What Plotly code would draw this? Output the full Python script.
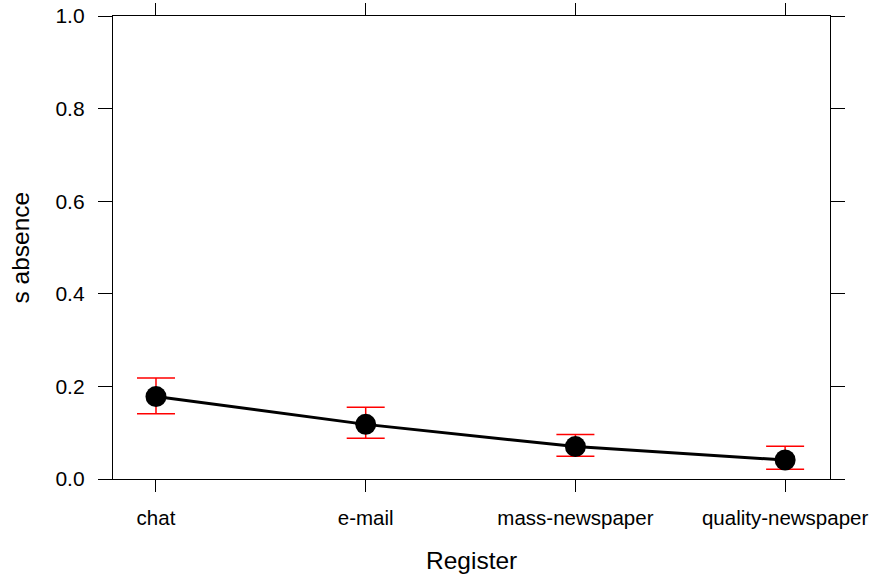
import plotly.graph_objects as go

categories = ["chat", "e-mail", "mass-newspaper", "quality-newspaper"]
fit = [0.178, 0.118, 0.070, 0.041]
upper = [0.218, 0.155, 0.096, 0.071]
lower = [0.141, 0.088, 0.049, 0.021]
y_ticks = [0.0, 0.2, 0.4, 0.6, 0.8, 1.0]
y_ticklabels = ["0.0", "0.2", "0.4", "0.6", "0.8", "1.0"]

err_plus = [u - f for u, f in zip(upper, fit)]
err_minus = [f - l for f, l in zip(fit, lower)]

fig = go.Figure()
fig.add_trace(go.Scatter(
    x=categories, y=fit, mode="lines+markers",
    line=dict(color="black", width=3),
    marker=dict(color="black", size=21),
    error_y=dict(type="data", symmetric=False, array=err_plus, arrayminus=err_minus,
                 color="red", thickness=1.5, width=19),
    showlegend=False,
))

font = "Liberation Sans, Arial, sans-serif"
fig.update_layout(
    width=895, height=579,
    margin=dict(l=113, r=65, t=16, b=100),
    plot_bgcolor="white", paper_bgcolor="white",
    font=dict(family=font, color="black"),
    xaxis=dict(
        type="category", range=[-0.205, 3.214], automargin=False,
        showline=True, linecolor="black", linewidth=1.3, mirror="ticks",
        ticks="outside", ticklen=12, tickwidth=1.3, tickcolor="black",
        tickfont=dict(size=20.5, family=font), showgrid=False, zeroline=False,
        ticklabelstandoff=8,
    ),
    yaxis=dict(
        range=[0, 1], tickvals=y_ticks, ticktext=y_ticklabels, automargin=False,
        showline=True, linecolor="black", linewidth=1.3, mirror="ticks",
        ticks="outside", ticklen=14, tickwidth=1.3, tickcolor="black",
        tickfont=dict(size=21, family=font), showgrid=False, zeroline=False,
        ticklabelstandoff=9,
    ),
    annotations=[
        dict(text="Register", x=0.5, y=0, xref="paper", yref="paper",
             xanchor="center", yanchor="top", yshift=-66, showarrow=False,
             font=dict(size=24.5, family=font, color="black")),
        dict(text="s absence", x=0, y=0.5, xref="paper", yref="paper",
             xanchor="center", yanchor="middle", xshift=-93, textangle=-90,
             showarrow=False, font=dict(size=24.5, family=font, color="black")),
    ],
)

fig.write_html("out.html")
